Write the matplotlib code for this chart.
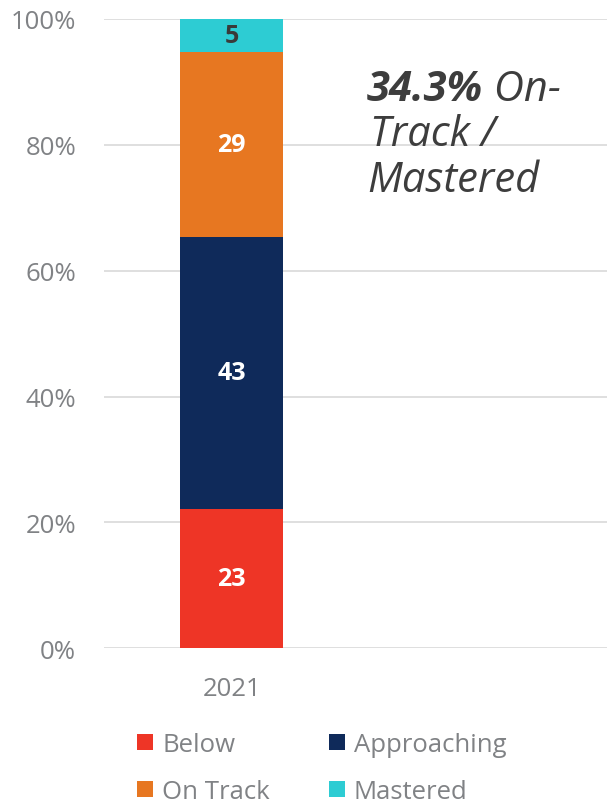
import matplotlib
matplotlib.use("Agg")
import matplotlib.pyplot as plt
from matplotlib.patches import Patch

categories = ["2021"]
series_names = ["Below", "Approaching", "On Track", "Mastered"]
series_values = [22.2, 43.2, 29.3, 5.3]
series_labels = ["23", "43", "29", "5"]
series_colors = ["#EE3526", "#0F2A5A", "#E77721", "#2DCCD3"]
label_colors = ["white", "white", "white", "#3a3a3a"]
yticks = [0, 20, 40, 60, 80, 100]
ytick_labels = ["0%", "20%", "40%", "60%", "80%", "100%"]
note_bold = "34.3%"
note_rest = [" On-", "Track /", "Mastered"]

plt.rcParams['font.family'] = ['Open Sans', 'DejaVu Sans']

W, H = 607, 804
fig = plt.figure(figsize=(W / 100, H / 100), dpi=100)
ax = fig.add_axes([104 / W, 1 - 649.3 / H, 503 / W, (649.3 - 20) / H])

bottom = 0
for name, val, lab, col, lc in zip(series_names, series_values, series_labels, series_colors, label_colors):
    ax.bar(0, val, bottom=bottom, width=0.404, color=col, label=name, zorder=3)
    ax.text(0, bottom + val / 2, lab, ha='center', va='center', color=lc,
            fontsize=18, fontweight='bold', zorder=4)
    bottom += val

ax.set_xlim(-0.5, 1.468)
ax.set_ylim(0, 100)
ax.set_yticks(yticks)
ax.set_yticklabels(ytick_labels)
ax.set_xticks([0])
ax.set_xticklabels(categories)
ax.yaxis.grid(True, color="#d9d9d9", linewidth=1.2, zorder=0)
for s in ax.spines.values():
    s.set_visible(False)
ax.tick_params(axis='both', length=0, labelsize=18.5, colors="#808285")
ax.tick_params(axis='y', pad=20)
ax.tick_params(axis='x', pad=20)

# annotation
tc = "#3d3d3d"
fs = 30
t1 = fig.text(367 / W, 1 - 101 / H, note_bold, fontsize=fs, fontweight='bold',
              fontstyle='italic', color=tc, va='baseline', ha='left')
fig.canvas.draw()
bb = t1.get_window_extent()
fig.text(bb.x1 / W, 1 - 101 / H, note_rest[0], fontsize=fs, fontstyle='italic',
         color=tc, va='baseline', ha='left')
fig.text(370 / W, 1 - 146 / H, note_rest[1], fontsize=fs, fontstyle='italic',
         color=tc, va='baseline', ha='left')
fig.text(367 / W, 1 - 192 / H, note_rest[2], fontsize=fs, fontstyle='italic',
         color=tc, va='baseline', ha='left')

handles = [Patch(facecolor=c, edgecolor='none') for c in series_colors]
order = [0, 2, 1, 3]
leg = fig.legend([handles[i] for i in order], [series_names[i] for i in order],
                 ncol=2, loc='center left', bbox_to_anchor=(114 / W, 1 - 769 / H),
                 frameon=False, fontsize=18.5, handlelength=0.62, handleheight=0.62,
                 handletextpad=0.35, columnspacing=2.3, labelspacing=0.85,
                 labelcolor="#808285")

fig.savefig("out.png", dpi=100)
